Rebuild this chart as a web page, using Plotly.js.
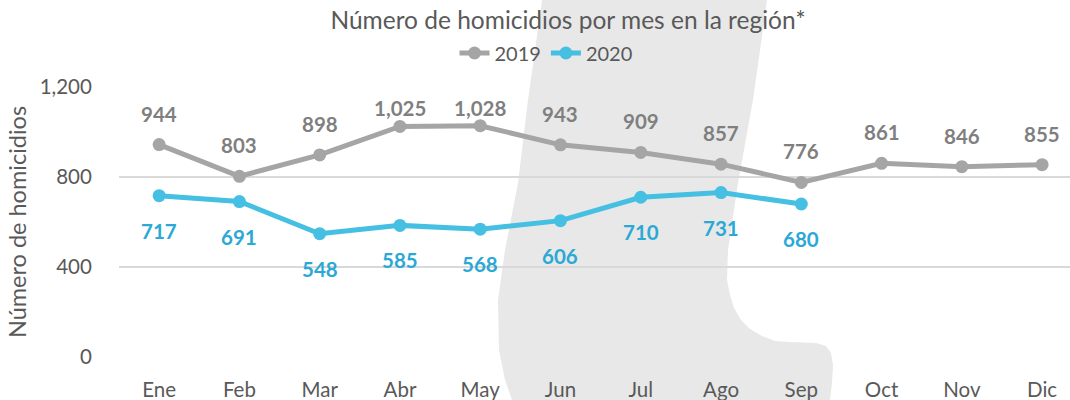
<!DOCTYPE html>
<html>
<head>
<meta charset="utf-8">
<script src="https://cdn.plot.ly/plotly-3.0.1.min.js"></script>
<style>html,body{margin:0;padding:0;background:#fff;}#chart{width:1070px;height:400px;}</style>
</head>
<body>
<div id="chart"></div>
<script>
const months = ["Ene","Feb","Mar","Abr","May","Jun","Jul","Ago","Sep","Oct","Nov","Dic"];
const values2019 = [944,803,898,1025,1028,943,909,857,776,861,846,855];
const values2020 = [717,691,548,585,568,606,710,731,680];
const labels2019 = ["944","803","898","1,025","1,028","943","909","857","776","861","846","855"];
const labels2020 = ["717","691","548","585","568","606","710","731","680"];

const W = 1070, H = 400;
const M = {l: 119, r: 0, t: 87, b: 43};
const yMax = 1200;
const FONT = "Lato, 'Noto Sans', sans-serif";
const grayLine = "#a5a5a5", grayText = "#7f7f7f";
const cyanLine = "#45bfe2", cyanText = "#2aa8d6";

const plotH = H - M.t - M.b;
const plotW = W - M.l - M.r;
const catW = 80.27;
const xMax = -0.5 + plotW / catW;

function ypx(v){ return M.t + plotH * (1 - v / yMax); }
function px(x){ return (x - M.l) / plotW; }
function py(y){ return (H - M.b - y) / plotH; }

const traces = [
  {x: months, y: values2019, name: "2019", type: "scatter", mode: "lines+markers",
   line: {color: grayLine, width: 5}, marker: {color: grayLine, size: 13}, cliponaxis: false, hoverinfo: "skip"},
  {x: months.slice(0, values2020.length), y: values2020, name: "2020", type: "scatter", mode: "lines+markers",
   line: {color: cyanLine, width: 5}, marker: {color: cyanLine, size: 13}, cliponaxis: false, hoverinfo: "skip"}
];

const annotations = [];
values2019.forEach((v, i) => {
  const shift = Math.min(31, ypx(v) - 108);
  annotations.push({x: months[i], y: v, xref: "x", yref: "y", text: labels2019[i], showarrow: false,
    yshift: shift, font: {family: FONT, size: 20.5, color: grayText, weight: "bold"}});
});
values2020.forEach((v, i) => {
  annotations.push({x: months[i], y: v, xref: "x", yref: "y", text: labels2020[i], showarrow: false,
    yshift: -35, font: {family: FONT, size: 20.5, color: cyanText, weight: "bold"}});
});

const pts = [
  [542,0],[528,100],[518,183],[505,250],[498,300],[499,350],[505,380],[512,400],
  [830,400],[832,383],[833,365],[831,353],[826,346],[816,343],[790,342],[775,341],[762,336],[750,329],[741,320],[734,308],[730,295],[727,280],[728,250],[738,183],[753,100],[767,0]
];
let path = "M " + px(pts[0][0]) + "," + py(pts[0][1]);
for (let i = 1; i < pts.length; i++) path += " L " + px(pts[i][0]) + "," + py(pts[i][1]);
path += " Z";

const layout = {
  width: W, height: H,
  margin: M,
  paper_bgcolor: "#ffffff",
  plot_bgcolor: "rgba(0,0,0,0)",
  font: {family: FONT, color: "#595959", size: 19},
  title: {text: "Número de homicidios por mes en la región*", x: 568 / W, xref: "container", xanchor: "center",
    y: 1 - 20 / H, yref: "container", yanchor: "middle", font: {family: FONT, size: 24.5, color: "#595959"}},
  showlegend: true,
  legend: {orientation: "h", xref: "container", yref: "container", x: 546 / W, xanchor: "center",
    y: 1 - 53 / H, yanchor: "middle", bgcolor: "rgba(0,0,0,0)", font: {family: FONT, size: 20, color: "#595959"},
    itemwidth: 30, tracegroupgap: 0},
  xaxis: {type: "category", range: [-0.5, xMax], showgrid: false, zeroline: false, showline: false,
    ticks: "outside", ticklen: 0, ticklabelstandoff: 14, tickfont: {family: FONT, size: 20.5, color: "#595959"}, fixedrange: true},
  yaxis: {range: [0, yMax], tickvals: [0, 400, 800, 1200], ticktext: ["0", "400", "800", "1,200"],
    showgrid: true, gridcolor: "#d9d9d9", gridwidth: 1.5, zeroline: false, showline: false,
    ticks: "outside", ticklen: 0, ticklabelstandoff: 22, tickfont: {family: FONT, size: 20.5, color: "#595959"},
    title: {text: "Número de homicidios", standoff: 6, font: {family: FONT, size: 23.5, color: "#595959"}},
    automargin: false, fixedrange: true},
  shapes: [{type: "path", path: path, xref: "paper", yref: "paper", fillcolor: "#e8e8e8", line: {width: 0}, layer: "below"}],
  annotations: annotations
};

Plotly.newPlot("chart", traces, layout, {displayModeBar: false, staticPlot: true});
</script>
</body>
</html>
